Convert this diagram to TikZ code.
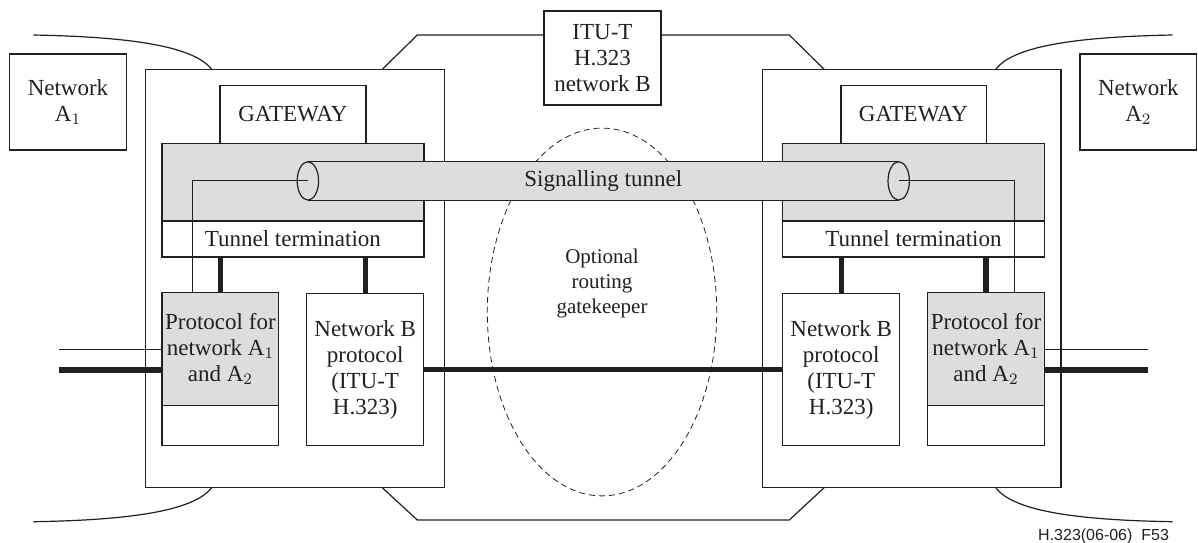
\documentclass[tikz,border=0pt]{standalone}
\usepackage{fontspec}
\setmainfont{Liberation Serif}
\newfontfamily\figsans{Liberation Sans}
\usetikzlibrary{positioning,shapes.geometric}
\definecolor{FillGray}{HTML}{DDDDDD}
\definecolor{Ink}{HTML}{231F20}

\begin{document}
\begin{tikzpicture}[x=0.5pt, y=-0.5pt,
      box/.style={draw=Ink, line width=0.7pt, inner sep=0pt, outer sep=0pt, align=center,
                  text=Ink, font=\fontsize{11.5}{13}\selectfont},
      graybox/.style={box, fill=FillGray},
      bus/.style={draw=Ink, line width=2.6pt},
      wire/.style={draw=Ink, line width=0.5pt},
      netline/.style={draw=Ink, line width=0.6pt},
      node distance=0pt
    ]
  \useasboundingbox (0,0) rectangle (1198,542);

  \node[draw=Ink, dash pattern=on 3pt off 2pt, line width=0.4pt, ellipse, inner sep=0pt,
        minimum width=114.7pt, minimum height=183.9pt] (gk) at (602,312) {};
  \node[text=Ink, align=center, font=\fontsize{10.5}{12.5}\selectfont] (gktext) at (602,283)
        {Optional\\routing\\gatekeeper};

  \node[box, minimum width=58.7pt, minimum height=48pt] (netA1) at (68,102) {Network\\A$_1$};
  \node[box, minimum width=58.4pt, minimum height=48pt] (netA2) at (1138.3,102) {Network\\A$_2$};
  \node[box, minimum width=58.5pt, minimum height=47pt] (itu) at (602.5,58) {ITU-T\\H.323\\network B};

  \node[box, minimum width=149.3pt, minimum height=209.2pt] (gwL) at (295,278.5) {};
  \node[box, minimum width=149.3pt, minimum height=209.2pt] (gwR) at (911.7,278.5) {};

  \node[graybox, minimum width=130.9pt, minimum height=38.9pt] (blockL) at (292.9,182.2) {};
  \node[box, minimum width=130.9pt, minimum height=17.9pt, below=of blockL] (termL) {Tunnel termination};
  \node[box, minimum width=72.9pt, minimum height=28.8pt, above=of blockL] (gateL) {GATEWAY};
  \node[graybox, minimum width=130.8pt, minimum height=38.9pt] (blockR) at (913.5,182.2) {};
  \node[box, minimum width=130.8pt, minimum height=17.9pt, below=of blockR] (termR) {Tunnel termination};
  \node[box, minimum width=72.7pt, minimum height=28.8pt, above=of blockR] (gateR) {GATEWAY};

  \node[graybox, minimum width=58.35pt, minimum height=56.7pt] (protoL) at (220.4,349)
        {Protocol for\\network A$_1$\\and A$_2$};
  \node[box, minimum width=58.35pt, minimum height=20pt, below=of protoL] (protoLx) {};
  \node[box, minimum width=58.5pt, minimum height=76pt] (netBL) at (365.2,369.7)
        {Network B\\protocol\\(ITU-T\\H.323)};
  \node[box, minimum width=58.5pt, minimum height=76pt] (netBR) at (841.2,369.7)
        {Network B\\protocol\\(ITU-T\\H.323)};
  \node[graybox, minimum width=58.3pt, minimum height=56.7pt] (protoR) at (986,349)
        {Protocol for\\network A$_1$\\and A$_2$};
  \node[box, minimum width=58.3pt, minimum height=20pt, below=of protoR] (protoRx) {};

  % signalling tunnel
  \node[fill=FillGray, text=Ink, inner sep=0pt, minimum width=295pt, minimum height=19.15pt,
        font=\fontsize{11.5}{13}\selectfont] (tunnel) at (603.3,180.9) {Signalling tunnel};
  \draw[netline] (tunnel.north west) -- (tunnel.north east)
                 (tunnel.south west) -- (tunnel.south east);
  \draw[netline, fill=FillGray] (tunnel.west) ellipse [x radius=5.35pt, y radius=9.575pt];
  \draw[netline] (tunnel.east) ellipse [x radius=5.35pt, y radius=9.575pt];

  \draw[wire] (tunnel.west) -| ([xshift=-14.2pt]protoL.north);
  \draw[wire] (tunnel.east) -| ([xshift=14.2pt]protoR.north);

  \draw[bus] (termL.south -| protoL.north) -- (protoL.north);
  \draw[bus] (termL.south -| netBL.north) -- (netBL.north);
  \draw[bus] (termR.south -| netBR.north) -- (netBR.north);
  \draw[bus] (termR.south -| protoR.north) -- (protoR.north);

  \coordinate (inL) at (59.3,370);
  \coordinate (inLs) at (59.3,349);
  \coordinate (outR) at (1147.7,370);
  \coordinate (outRs) at (1147.7,349);
  \draw[bus] (inL) -- ([yshift=-10.5pt]protoL.west);
  \draw[wire] (inLs) -- (protoL.west);
  \draw[bus] (netBL.east) -- (netBR.west);
  \draw[bus] ([yshift=-10.5pt]protoR.east) -- (outR);
  \draw[wire] (protoR.east) -- (outRs);

  % network borders
  \draw[netline] (33.3,35) .. controls (140,37) and (195,48) .. ([xshift=33pt]gwL.north west);
  \draw[netline] ([xshift=33pt]gwL.south west) .. controls (195,509) and (140,520) .. (33.3,521.7);
  \draw[netline] ([xshift=-32.65pt]gwR.north east) .. controls (1012,48) and (1066,37) .. (1172.7,35);
  \draw[netline] ([xshift=-32.65pt]gwR.south east) .. controls (1012,509) and (1066,520) .. (1172.7,521.7);
  \draw[netline] ([xshift=118.3pt]gwL.north west) -- (417.3,35) -- ([yshift=11.5pt]itu.west);
  \draw[netline] ([yshift=11.5pt]itu.east) -- (789.3,35) -- ([xshift=30.85pt]gwR.north west);
  \draw[netline] ([xshift=118.3pt]gwL.south west) -- (417.3,520) -- (789.3,520)
                 -- ([xshift=30.85pt]gwR.south west);

  \node[anchor=east, text=Ink, font=\figsans\fontsize{8}{9}\selectfont] (tag) at (1176,536)
        {H.323(06-06)\ \ F53};
\end{tikzpicture}
\end{document}
